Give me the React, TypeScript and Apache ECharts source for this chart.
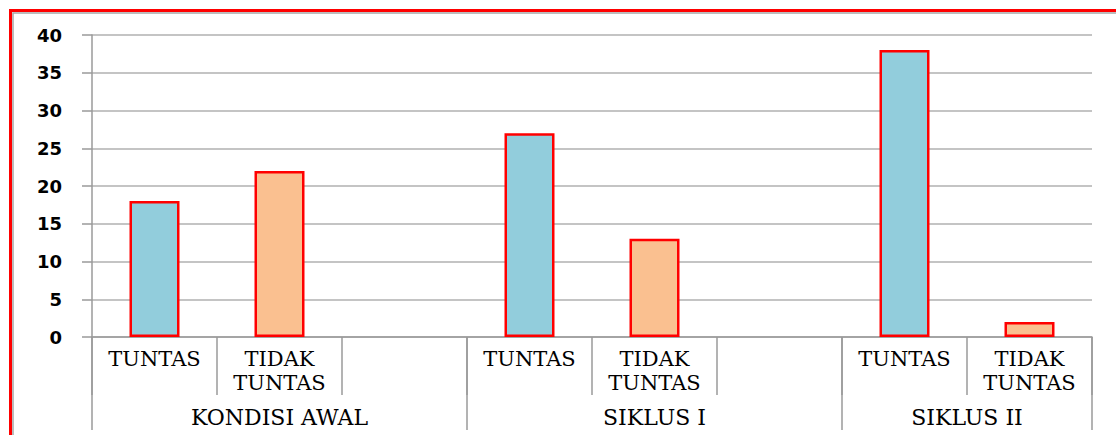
import React, { useEffect, useRef } from "react";
import * as echarts from "echarts";

const categories = ["TUNTAS", "TIDAK\nTUNTAS", "", "TUNTAS", "TIDAK\nTUNTAS", "", "TUNTAS", "TIDAK\nTUNTAS"];
const values: (number | null)[] = [18, 22, null, 27, 13, null, 38, 2];
const groupNames = ["KONDISI AWAL", "SIKLUS I", "SIKLUS II"];
const groupSizes = [3, 3, 2];
const yTicks = [0, 5, 10, 15, 20, 25, 30, 35, 40];

const COLOR_TUNTAS = "#92CDDC";
const COLOR_TIDAK = "#FAC090";

export default function App() {
  const ref = useRef<HTMLDivElement>(null);
  useEffect(() => {
    if (!ref.current) return;
    const chart = echarts.init(ref.current, null, { renderer: "svg" });

    const bounds: number[] = [0];
    groupSizes.forEach((s) => bounds.push(bounds[bounds.length - 1] + s));
    const centers = groupSizes.map((s, i) => bounds[i] + s / 2);
    const total = bounds[bounds.length - 1];

    const gray = "#9a9a9a";
    chart.setOption({
      animation: false,
      backgroundColor: "#ffffff",
      graphic: [
        {
          type: "rect",
          shape: { x: 10.5, y: 10.5, width: 1300, height: 700 },
          style: { fill: "none", stroke: "#ff0000", lineWidth: 3 },
          silent: true,
        },
        {
          type: "rect",
          shape: { x: 13, y: 13, width: 1300, height: 700 },
          style: { fill: "none", stroke: "#a6a6a6", lineWidth: 1.5 },
          silent: true,
        },
      ],
      grid: { left: 92, right: 24, top: 35, bottom: 98, containLabel: false },
      xAxis: [
        {
          type: "category",
          data: categories,
          position: "bottom",
          boundaryGap: true,
          axisLine: { show: true, lineStyle: { color: gray, width: 1.5 } },
          axisTick: { show: true, interval: 0, alignWithLabel: false, length: 58, lineStyle: { color: gray, width: 1.5 } },
          axisLabel: {
            interval: 0,
            margin: 10,
            fontFamily: "DejaVu Serif",
            fontSize: 21,
            lineHeight: 24,
            color: "#000",
          },
          splitLine: { show: false },
        },
        {
          type: "value",
          position: "bottom",
          min: 0,
          max: total,
          axisLine: { show: false },
          axisTick: {
            show: true,
            customValues: bounds,
            length: 93,
            lineStyle: { color: gray, width: 1.5 },
          },
          axisLabel: {
            show: true,
            customValues: centers,
            margin: 69,
            fontFamily: "DejaVu Serif",
            fontSize: 22,
            color: "#000",
            formatter: (v: number) => {
              const i = centers.indexOf(v);
              return i >= 0 ? groupNames[i] : "";
            },
          },
          splitLine: { show: false },
        },
      ],
      yAxis: {
        type: "value",
        min: yTicks[0],
        max: yTicks[yTicks.length - 1],
        interval: yTicks[1] - yTicks[0],
        axisLine: { show: true, lineStyle: { color: gray, width: 1.5 } },
        axisTick: { show: true, length: 10, lineStyle: { color: gray, width: 1.5 } },
        axisLabel: {
          margin: 30,
          fontFamily: "DejaVu Sans",
          fontWeight: "bold",
          fontSize: 18,
          color: "#000",
        },
        splitLine: { show: true, lineStyle: { color: "#b0b0b0", width: 1.5 } },
      },
      series: [
        {
          type: "bar",
          xAxisIndex: 0,
          yAxisIndex: 0,
          barWidth: 50,
          data: values.map((v, i) => ({
            value: v,
            itemStyle: {
              color: categories[i].startsWith("TIDAK") ? COLOR_TIDAK : COLOR_TUNTAS,
              borderColor: "#ff0000",
              borderWidth: 2.5,
            },
          })),
        },
      ],
    });
    return () => chart.dispose();
  }, []);
  return (
    <div
      ref={ref}
      style={{ position: "absolute", left: 0, top: 0, width: 1116, height: 435 }}
    />
  );
}
